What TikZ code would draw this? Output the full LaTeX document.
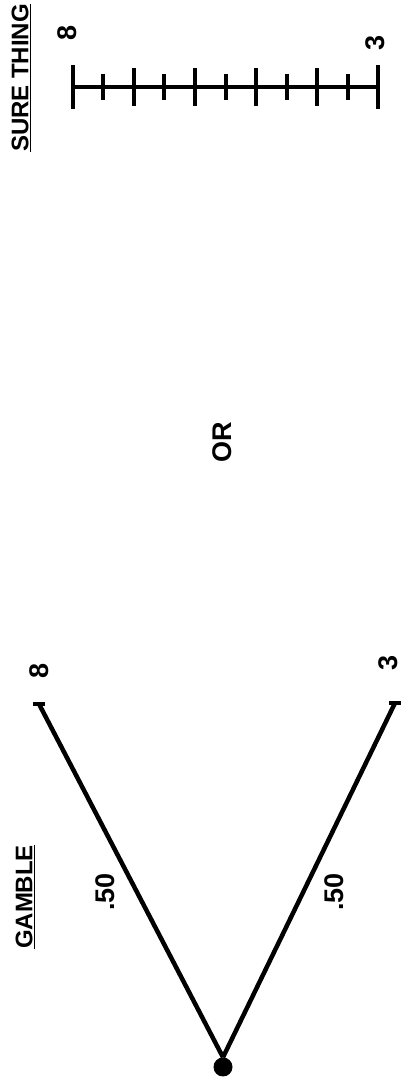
\documentclass[tikz,border=0pt]{standalone}
\usepackage{fontspec}
\setmainfont{Liberation Sans}
\usetikzlibrary{calc}
\tikzset{
    rottext/.style={rotate=90, inner sep=0pt, font=\fontsize{24}{30}\selectfont\bfseries},
    numtext/.style={rotate=90, inner sep=0pt, font=\fontsize{27}{32}\selectfont\bfseries},
    branch/.style={line width=4.5pt},
    tick/.style={line width=4pt},
}
\begin{document}
\begin{tikzpicture}[x=1pt, y=1pt]
    \useasboundingbox (0,0) rectangle (407,1081);

    % Place the gamble root and its two outcomes
    \node[circle, fill, inner sep=0pt, minimum size=19pt] (root) at (223,14) {};
    \coordinate (win) at (39,377);
    \coordinate (lose) at (395,378);
    \draw[branch] (root.north) -- (win);
    \draw[branch] (root.north) -- (lose);
    \draw[tick] ([xshift=-6pt]win) -- ([xshift=6pt]win);
    \draw[tick] ([xshift=-6pt]lose) -- ([xshift=6pt]lose);

    % Add the outcome and probability labels
    \node[numtext] (w8) at (39,410) {8};
    \node[numtext] (l3) at (388,418) {3};
    \node[numtext] (p1) at (105,189) {.50};
    \node[numtext] (p2) at (334,189) {.50};
    \node[rottext] (gamble) at (25,184) {\underline{GAMBLE}};

    % Place the or text
    \node[rottext, font=\fontsize{27}{30}\selectfont\bfseries] (or) at (222,639) {OR};

    % Draw the sure thing scale
    \node[rottext] (sure) at (21,1003) {\underline{SURE THING}};
    \coordinate (top) at (73,994);
    \coordinate (bot) at (378,994);
    \draw[branch] (top) -- (bot);
    \draw[tick] ([yshift=22pt]top) -- ([yshift=-22pt]top);
    \draw[tick] ([yshift=22pt]bot) -- ([yshift=-22pt]bot);
    \foreach \i in {1,...,9} {
        \pgfmathsetmacro{\len}{isodd(\i) ? 13 : 19}
        \draw[tick] ($(top)!\i/10!(bot)+(0,\len)$) -- ($(top)!\i/10!(bot)-(0,\len)$);
    }
    \node[numtext] (s8) at (67,1048) {8};
    \node[numtext] (s3) at (375,1038) {3};
\end{tikzpicture}
\end{document}
